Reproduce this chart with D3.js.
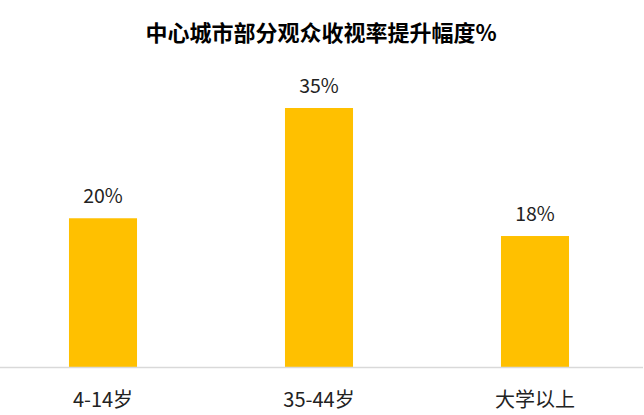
<!DOCTYPE html>
<html><head><meta charset="utf-8">
<script src="https://cdn.jsdelivr.net/npm/d3@7"></script>
<style>body{margin:0;background:#fff}svg{display:block}</style>
</head><body>
<script>
const title = "中心城市部分观众收视率提升幅度%";
const categories = ["4-14岁", "35-44岁", "大学以上"];
const values = [20.1, 35.0, 17.7];
const labels = ["20%", "35%", "18%"];

const W = 644, H = 415;
const font = "'Noto Sans CJK SC', 'Microsoft YaHei', sans-serif";
const svg = d3.select("body").append("svg").attr("width", W).attr("height", H);

const x = d3.scaleBand().domain(categories).range([-5, 643]).paddingInner(0.685).paddingOuter(0.3425);
const y = d3.scaleLinear().domain([0, 35]).range([367, 108]);

svg.append("text").attr("x", 321).attr("y", 41).attr("text-anchor", "middle")
  .attr("font-family", font).attr("font-weight", "bold").attr("font-size", 22).attr("fill", "#000").text(title);

svg.selectAll("rect.bar").data(values).join("rect").attr("class", "bar")
  .attr("x", (d, i) => x(categories[i])).attr("width", x.bandwidth())
  .attr("y", d => y(d)).attr("height", d => y(0) - y(d)).attr("fill", "#FFC000");

svg.selectAll("text.val").data(values).join("text").attr("class", "val")
  .attr("x", (d, i) => x(categories[i]) + x.bandwidth() / 2).attr("y", d => y(d) - 15)
  .attr("text-anchor", "middle").attr("font-family", font).attr("font-size", 19.5).attr("fill", "#222")
  .text((d, i) => labels[i]);

const axis = svg.append("g").attr("transform", "translate(0,367.5)")
  .call(d3.axisBottom(x).tickSize(0).tickPadding(25));
axis.select(".domain").attr("d", "M0,0H643").attr("stroke", "#d9d9d9").attr("stroke-width", 1.5);
axis.selectAll("text").attr("font-family", font).attr("font-size", 20).attr("fill", "#222").attr("dy", "0.7em");
</script>
</body></html>
